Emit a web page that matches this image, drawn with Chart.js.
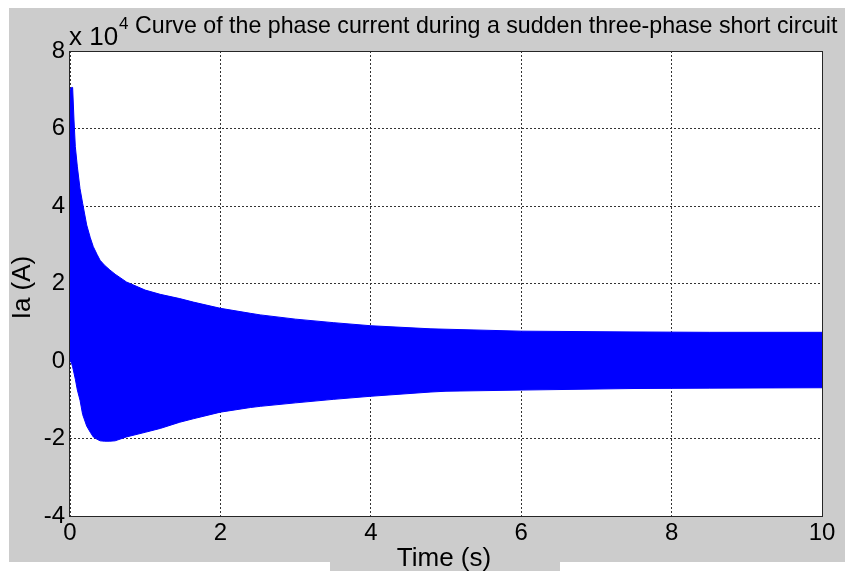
<!DOCTYPE html>
<html>
<head>
<meta charset="utf-8">
<title>Phase current</title>
<script src="https://cdn.jsdelivr.net/npm/chart.js@4.4.1/dist/chart.umd.min.js"></script>
<style>
html, body { margin: 0; padding: 0; background: #fff; }
#wrap { width: 845px; height: 571px; }
</style>
</head>
<body>
<div id="wrap"><canvas id="phaseChart" width="845" height="571"></canvas></div>
<script>
// envelope of the phase-a current (A) after the short circuit at t = 0
const time = [0, 0.02, 0.035, 0.053, 0.071, 0.098, 0.133, 0.168, 0.222, 0.27, 0.31, 0.36, 0.40, 0.46, 0.53, 0.60, 0.75,
              1.0, 1.2, 1.46, 1.64, 2.0, 2.4, 2.53, 3.0, 3.5, 4.0, 4.8, 5.0, 6.0, 7.5, 8.5, 10];
const upperIa = [70000, 70600, 70600, 62200, 55300, 50100, 44500, 40700, 35100, 31800, 29500, 27500, 26000, 24700, 23500, 22400, 20400,
                 18300, 17200, 16100, 15200, 13600, 12300, 11900, 10800, 9900, 9100, 8300, 8200, 7700, 7500, 7400, 7400];
const lowerIa = [0, -500, -1500, -3100, -4700, -7500, -10100, -13800, -16800, -18400, -19600, -20200, -20600, -20700, -20700, -20600, -19600,
                 -18400, -17400, -15800, -14900, -13200, -12000, -11700, -10800, -9900, -9100, -8000, -7800, -7500, -7100, -7000, -6900];
const xTicks = [0, 2, 4, 6, 8, 10];
const yTicks = [-4, -2, 0, 2, 4, 6, 8]; // in units of 10^4 A

const FONT = '"Liberation Sans", Arial, sans-serif';
const BLUE = '#0000ff';

const upperPts = time.map((t, i) => ({ x: t, y: upperIa[i] }));
const lowerPts = time.map((t, i) => ({ x: t, y: lowerIa[i] }));

const figure = {
    id: 'figure',
    beforeDraw(chart) {
        const ctx = chart.ctx, a = chart.chartArea;
        ctx.save();
        ctx.fillStyle = '#ffffff';
        ctx.fillRect(0, 0, chart.width, chart.height);
        ctx.fillStyle = '#cccccc';
        ctx.fillRect(9, 8, chart.width - 9, 554);
        ctx.fillRect(330, 562, 230, 9);
        ctx.fillStyle = '#ffffff';
        ctx.fillRect(a.left, a.top, a.right - a.left, a.bottom - a.top);
        ctx.restore();
    },
    afterDatasetsDraw(chart) {
        const ctx = chart.ctx, a = chart.chartArea;
        ctx.save();
        ctx.strokeStyle = '#262626';
        ctx.lineWidth = 1;
        ctx.strokeRect(Math.round(a.left) - 0.5, Math.round(a.top) + 0.5,
                       Math.round(a.right - a.left) + 1, Math.round(a.bottom - a.top));
        ctx.restore();
    },
    afterDraw(chart) {
        const ctx = chart.ctx, a = chart.chartArea;
        ctx.save();
        ctx.fillStyle = '#000000';
        ctx.textAlign = 'left';
        ctx.textBaseline = 'alphabetic';
        ctx.font = '26px ' + FONT;
        ctx.fillText('x 10', 69, 45);
        ctx.font = '17px ' + FONT;
        ctx.fillText('4', 119, 29);
        ctx.font = '23.2px ' + FONT;
        ctx.fillText('Curve of the phase current during a sudden three-phase short circuit', 135, 33);

        ctx.textAlign = 'center';
        ctx.font = '26px ' + FONT;
        ctx.fillText('Time (s)', 444, 566);

        ctx.translate(30, (a.top + a.bottom) / 2 + 4);
        ctx.rotate(-Math.PI / 2);
        ctx.fillText('Ia (A)', 0, 0);
        ctx.restore();
    }
};

const ctx = document.getElementById('phaseChart').getContext('2d');
const phaseChart = new Chart(ctx, {
    type: 'line',
    data: {
        datasets: [{
            label: 'upper',
            data: upperPts,
            borderColor: BLUE,
            backgroundColor: BLUE,
            borderWidth: 1,
            pointRadius: 0,
            tension: 0,
            fill: '+1'
        }, {
            label: 'lower',
            data: lowerPts,
            borderColor: BLUE,
            backgroundColor: BLUE,
            borderWidth: 1,
            pointRadius: 0,
            tension: 0,
            fill: false
        }]
    },
    options: {
        responsive: false,
        animation: false,
        devicePixelRatio: 1,
        layout: { padding: { top: 51, right: 23, left: 0, bottom: 0 } },
        plugins: {
            legend: { display: false },
            title: { display: false },
            tooltip: { enabled: false }
        },
        scales: {
            x: {
                type: 'linear',
                min: 0,
                max: 10,
                afterFit(scale) { scale.height = 55; },
                afterBuildTicks(scale) { scale.ticks = xTicks.map(v => ({ value: v })); },
                ticks: {
                    padding: 3,
                    color: '#000',
                    font: { family: FONT, size: 24 },
                    maxRotation: 0,
                    callback: v => String(v)
                },
                grid: { color: '#333333', lineWidth: 1, drawTicks: false },
                border: { display: false, dash: [2, 2] }
            },
            y: {
                type: 'linear',
                min: -40000,
                max: 80000,
                afterFit(scale) { scale.width = 70; },
                afterBuildTicks(scale) { scale.ticks = yTicks.map(v => ({ value: v * 1e4 })); },
                ticks: {
                    padding: 5,
                    color: '#000',
                    font: { family: FONT, size: 24 },
                    callback: v => String(v / 1e4)
                },
                grid: { color: '#333333', lineWidth: 1, drawTicks: false },
                border: { display: false, dash: [2, 2] }
            }
        }
    },
    plugins: [figure]
});
</script>
</body>
</html>
